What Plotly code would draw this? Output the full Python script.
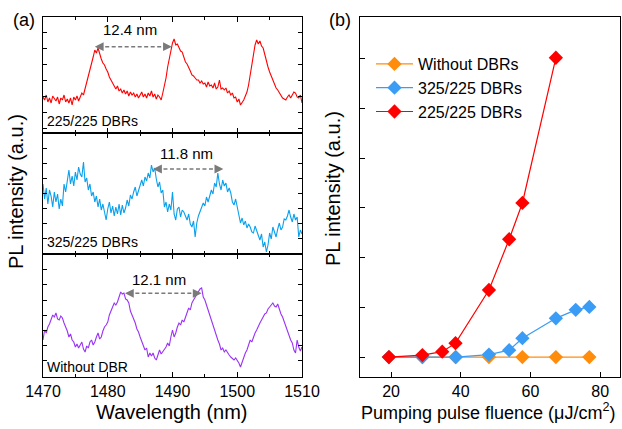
import plotly.graph_objects as go

# ---------------- data ----------------
wl_start, wl_step, n_pts = 1470.0, 0.25, 161
wavelength = [wl_start + wl_step * i for i in range(n_pts)]

# 225/225 DBRs (top, red) – PL intensity (a.u.)
pl_225 = [36, 33, 38, 31, 35, 30, 37, 34, 32, 36, 29, 35, 33, 38, 31, 34,
          30, 35, 28, 36, 33, 37, 32, 36, 40, 38, 44, 50, 57, 64, 70, 76,
          83, 80, 85, 79, 74, 70, 68, 64, 61, 56, 53, 49, 46, 44, 47, 42,
          44, 40, 43, 39, 42, 37, 41, 38, 40, 36, 39, 35, 38, 41, 36, 39,
          35, 40, 37, 42, 36, 39, 34, 38, 36, 33, 40, 47, 55, 66, 75, 83,
          90, 94, 88, 89, 86, 82, 81, 76, 71, 69, 66, 62, 58, 57, 55, 53,
          53, 50, 52, 49, 50, 46, 51, 47, 48, 45, 50, 44, 46, 53, 44, 45,
          43, 45, 40, 42, 38, 40, 35, 36, 31, 34, 28, 30, 33, 37, 41, 48,
          58, 68, 81, 88, 93, 89, 92, 87, 85, 78, 71, 66, 61, 57, 53, 49,
          45, 43, 40, 37, 35, 34, 33, 36, 38, 35, 38, 41, 40, 36, 35, 38,
          30]

# 325/225 DBRs (middle, blue)
pl_325 = [70, 55, 66, 50, 64, 58, 47, 62, 52, 60, 45, 55, 48, 70, 62, 76,
          84, 70, 78, 68, 82, 74, 87, 80, 77, 92, 72, 76, 64, 70, 58, 62,
          52, 58, 47, 55, 44, 50, 42, 34, 45, 52, 41, 48, 38, 47, 40, 50,
          39, 49, 41, 46, 54, 48, 59, 55, 62, 67, 58, 64, 70, 74, 68, 77,
          73, 81, 76, 89, 82, 86, 75, 67, 72, 61, 64, 47, 52, 42, 50, 44,
          62, 40, 34, 45, 47, 37, 44, 42, 38, 34, 40, 30, 27, 33, 17, 31,
          38, 42, 46, 51, 48, 57, 52, 59, 64, 60, 71, 67, 81, 70, 64, 74,
          68, 71, 62, 66, 61, 52, 49, 55, 47, 40, 31, 36, 29, 33, 26, 30,
          27, 22, 21, 28, 24, 18, 14, 20, 7, 12, 2, 9, 21, 15, 27, 22,
          17, 25, 31, 24, 27, 35, 34, 38, 44, 37, 32, 40, 34, 37, 17, 24,
          20]

# Without DBR (bottom, purple)
pl_none = [37, 47, 44, 50, 53, 57, 62, 60, 64, 58, 57, 61, 59, 54, 50, 46,
           40, 43, 37, 35, 30, 33, 29, 32, 35, 28, 25, 31, 29, 35, 37, 32,
           35, 40, 44, 38, 40, 46, 50, 52, 55, 62, 67, 70, 74, 72, 75, 80,
           85, 83, 84, 78, 77, 74, 66, 62, 58, 54, 48, 45, 40, 36, 32, 27,
           29, 20, 24, 21, 24, 19, 17, 22, 27, 23, 25, 28, 30, 34, 31, 40,
           47, 40, 44, 50, 54, 52, 57, 55, 60, 64, 69, 67, 74, 77, 80, 83,
           85, 88, 89, 80, 77, 71, 67, 62, 57, 51, 45, 41, 37, 33, 27, 29,
           25, 27, 24, 22, 20, 18, 17, 19, 17, 14, 10, 15, 20, 24, 27, 32,
           37, 35, 40, 44, 47, 51, 54, 57, 60, 63, 64, 68, 70, 72, 74, 71,
           70, 73, 67, 63, 60, 55, 50, 45, 40, 37, 34, 27, 24, 37, 30, 26,
           30]

# panel (b): integrated PL vs pumping fluence
fluence_none = [19.4, 29.0, 38.5, 48.1, 57.7, 67.3, 76.9]
pl_int_none = [0, 0, 0, 0, 0, 0, 0]
fluence_325 = [19.4, 29.0, 38.6, 48.1, 53.9, 57.7, 67.3, 73.0, 76.9]
pl_int_325 = [0, 0.0, 0, 0.05, 0.14, 0.38, 0.78, 0.95, 1.01]
fluence_225 = [19.4, 29.0, 34.7, 38.5, 48.1, 53.9, 57.7, 67.3]
pl_int_225 = [0, 0.04, 0.11, 0.28, 1.35, 2.37, 3.10, 6.02]

legend_names = ["Without DBRs", "325/225 DBRs", "225/225 DBRs"]
spectrum_labels = ["225/225 DBRs", "325/225 DBRs", "Without DBR"]
fsr_labels = ["12.4 nm", "11.8 nm", "12.1 nm"]

# ---------------- styling ----------------
FONT = "Liberation Sans, Arial, Helvetica, sans-serif"
W, H = 622, 429
RED = "#ff0000"
BLUE_SPEC = "#0aa0ec"
PURPLE = "#9a33f5"
ORANGE = "#ff8c0a"
BLUE = "#3a9cf5"
GRAY = "#7a7a7a"

def px_x(p):
    return p / W

def px_y(p):
    return 1 - p / H

fig = go.Figure()

# spectra
fig.add_trace(go.Scatter(x=wavelength, y=pl_none, mode="lines",
                         line=dict(color=PURPLE, width=1.1),
                         xaxis="x", yaxis="y", showlegend=False))
fig.add_trace(go.Scatter(x=wavelength, y=pl_325, mode="lines",
                         line=dict(color=BLUE_SPEC, width=1.1),
                         xaxis="x2", yaxis="y2", showlegend=False))
fig.add_trace(go.Scatter(x=wavelength, y=pl_225, mode="lines",
                         line=dict(color=RED, width=1.1),
                         xaxis="x3", yaxis="y3", showlegend=False))

# panel b
for xs, ys, c, name in [(fluence_none, pl_int_none, ORANGE, legend_names[0]),
                        (fluence_325, pl_int_325, BLUE, legend_names[1]),
                        (fluence_225, pl_int_225, RED, legend_names[2])]:
    fig.add_trace(go.Scatter(x=xs, y=ys, mode="lines+markers", name=name,
                             line=dict(color=c, width=1.2),
                             marker=dict(symbol="diamond", size=11, color=c,
                                         line=dict(width=0)),
                             xaxis="x4", yaxis="y4"))

xa_dom = [px_x(43), px_x(302)]
bounds = [17, 133, 254, 377]
axis_common = dict(showline=True, linecolor="black", linewidth=1, mirror="ticks",
                   ticks="inside", ticklen=5, tickcolor="black", showgrid=False,
                   zeroline=False, automargin=False)

lay = dict(
    width=W, height=H,
    margin=dict(l=0, r=0, t=0, b=0, pad=0, autoexpand=False),
    paper_bgcolor="white", plot_bgcolor="white",
    font=dict(family=FONT, color="black", size=16),
    xaxis=dict(domain=xa_dom, anchor="y", range=[1470, 1510], dtick=10,
               minor=dict(dtick=5, ticks="inside", ticklen=3, tickcolor="black"),
               tickfont=dict(size=16),
               **axis_common),
    xaxis2=dict(domain=xa_dom, anchor="y2", range=[1470, 1510], dtick=10,
                matches="x", showticklabels=False,
                minor=dict(dtick=5, ticks="inside", ticklen=3, tickcolor="black"),
                **axis_common),
    xaxis3=dict(domain=xa_dom, anchor="y3", range=[1470, 1510], dtick=10,
                matches="x", showticklabels=False,
                minor=dict(dtick=5, ticks="inside", ticklen=3, tickcolor="black"),
                **axis_common),
    yaxis=dict(domain=[px_y(bounds[3]), px_y(bounds[2])], anchor="x",
               range=[0, bounds[3] - bounds[2]], tick0=1, dtick=15.2,
               showticklabels=False, **{**axis_common, "ticklen": 4}),
    yaxis2=dict(domain=[px_y(bounds[2]), px_y(bounds[1])], anchor="x2",
                range=[0, bounds[2] - bounds[1]], tick0=0.7, dtick=15,
                showticklabels=False, **{**axis_common, "ticklen": 4}),
    yaxis3=dict(domain=[px_y(bounds[1]), px_y(bounds[0])], anchor="x3",
                range=[0, bounds[1] - bounds[0]], tick0=5, dtick=16,
                showticklabels=False, **{**axis_common, "ticklen": 4}),
    xaxis4=dict(domain=[px_x(360), px_x(620)], anchor="y4", range=[11.1, 85.7],
                tickvals=[20, 40, 60, 80], tickfont=dict(size=16),
                **{**axis_common, "mirror": True}),
    yaxis4=dict(domain=[px_y(377), px_y(17)], anchor="x4", range=[-0.40, 6.84],
                dtick=1, showticklabels=False,
                **{**axis_common, "mirror": True}),
    legend=dict(x=px_x(371), y=px_y(47), xanchor="left", yanchor="top",
                bgcolor="rgba(0,0,0,0)", font=dict(size=16), tracegroupgap=0,
                itemwidth=37),
)
fig.update_layout(**lay)

annotations = []
shapes = []

def paper_text(text, xp, yp, size, angle=0):
    return dict(text=text, x=px_x(xp), y=px_y(yp), xref="paper", yref="paper",
                xanchor="center", yanchor="middle", showarrow=False,
                textangle=angle, font=dict(size=size))

# panel letters and axis titles
annotations += [
    paper_text("(a)", 24, 20, 18),
    paper_text("(b)", 340, 20, 18),
    paper_text("PL intensity (a.u.)", 16, 192, 20, -90),
    paper_text("PL intensity (a.u.)", 333, 189, 20, -90),
    paper_text("Wavelength (nm)", 172, 412, 20),
    paper_text("Pumping pulse fluence (\u03bcJ/cm<sup>2</sup>)", 488, 411, 18),
]

# spectrum name labels (bottom-left inside each subpanel)
for lab, xr, yr, ypx_bot, ypx_lab in [
        (spectrum_labels[0], "x3", "y3", bounds[1], 120.7),
        (spectrum_labels[1], "x2", "y2", bounds[2], 241.7),
        (spectrum_labels[2], "x", "y", bounds[3], 366.7)]:
    annotations.append(dict(text=lab, x=1470.3, y=ypx_bot - ypx_lab,
                            xref=xr, yref=yr, xanchor="left", yanchor="middle",
                            showarrow=False, font=dict(size=14)))

# FSR arrows
arrow_specs = [  # (xref, yref, x0, x1, y, label_x, label_y, label)
    ("x3", "y3", 1478.0, 1489.9, 86.3, 1483.5, 103, fsr_labels[0]),
    ("x2", "y2", 1487.0, 1497.85, 85, 1492.2, 100.7, fsr_labels[1]),
    ("x", "y", 1482.66, 1494.5, 83.7, 1487.9, 98, fsr_labels[2]),
]
for xr, yr, x0, x1, yv, lx, ly, lab in arrow_specs:
    shapes.append(dict(type="line", xref=xr, yref=yr, x0=x0 + 0.6, x1=x1 - 0.6,
                       y0=yv, y1=yv, line=dict(color=GRAY, width=1.6, dash="4px,2.5px")))
    for head, tail in [(x0, x0 + 1.2), (x1, x1 - 1.2)]:
        annotations.append(dict(x=head, y=yv, ax=tail, ay=yv, xref=xr, yref=yr,
                                axref=xr, ayref=yr, text="", showarrow=True,
                                arrowhead=2, arrowsize=1.1, arrowwidth=1.6,
                                arrowcolor=GRAY))
    annotations.append(dict(text=lab, x=lx, y=ly, xref=xr, yref=yr,
                            xanchor="center", yanchor="middle",
                            showarrow=False, font=dict(size=15)))

fig.update_layout(annotations=annotations, shapes=shapes)
fig.write_html("out.html", config={"displayModeBar": False},
               post_script="document.body.style.margin='0px';"
                           "document.body.style.padding='0px';")
